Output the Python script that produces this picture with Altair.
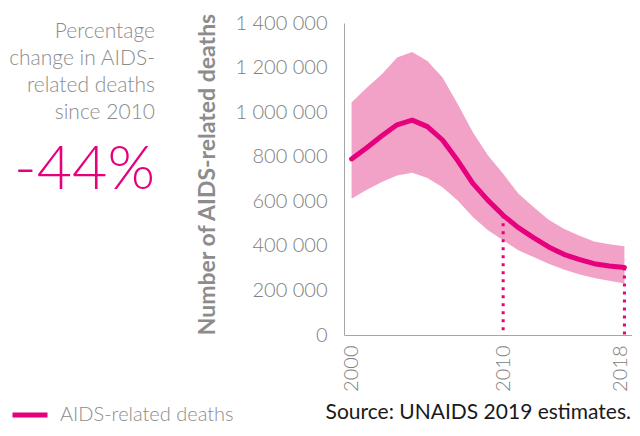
import altair as alt
import pandas as pd

years = list(range(2000, 2019))
deaths = [790000, 840000, 894000, 943000, 964000, 935000, 875000, 783000, 680000,
          604000, 537000, 482000, 437000, 395000, 362000, 339000, 320000, 310000, 303000]
upper = [1043000, 1110000, 1170000, 1245000, 1270000, 1230000, 1155000, 1037000, 910000,
         805000, 723000, 635000, 574000, 517000, 477000, 447000, 420000, 407000, 398000]
lower = [611000, 652000, 686000, 716000, 728000, 705000, 663000, 604000, 529000,
         470000, 425000, 380000, 350000, 320000, 294000, 273000, 256000, 243000, 231000]
marked_years = [2010, 2018]
x_ticks = [2000, 2010, 2018]
y_ticks = [0, 200000, 400000, 600000, 800000, 1000000, 1200000, 1400000]

MAGENTA = "#e6007e"
BAND = "#f2a2c6"
GRAY = "#8c8c8c"
FONT = "Lato"

df = pd.DataFrame({"year": years, "deaths": deaths, "upper": upper, "lower": lower,
                   "series": "AIDS-related deaths"})
df["zero"] = 0
marks_df = df[df["year"].isin(marked_years)]

xscale = alt.Scale(domain=[1999.5, 2018.5], nice=False, zero=False)
yscale = alt.Scale(domain=[0, 1400000], nice=False)

xaxis = alt.Axis(values=x_ticks, format="d", labelAngle=270, labelFontSize=20,
                 labelFont=FONT, labelFontWeight=300, labelColor="#808080",
                 labelPadding=10, ticks=False, grid=False, domainColor="#a6a6a6",
                 title=None, labelFlush=False,
                 labelOffset={"condition": {"test": "datum.value == 2018", "value": -4},
                              "value": 0})
yaxis = alt.Axis(values=y_ticks, labelFontSize=20, labelFont=FONT, labelFontWeight=300,
                 labelColor="#808080", labelPadding=17, ticks=False, grid=False,
                 domainColor="#a6a6a6",
                 labelExpr="replace(replace(format(datum.value, ','), ',', ' '), ',', ' ')",
                 title="Number of AIDS-related deaths", titleFont=FONT, titleFontSize=23,
                 titleFontWeight="bold", titleColor=GRAY, titleAngle=270,
                 titleX=-137, titleY=151, titleAlign="center", titleBaseline="middle")

x = alt.X("year:Q", scale=xscale, axis=xaxis)

band = alt.Chart(df).mark_area(color=BAND, opacity=1).encode(
    x=x,
    y=alt.Y("upper:Q", scale=yscale, axis=yaxis),
    y2="lower:Q",
)

rules = alt.Chart(marks_df).mark_rule(color=MAGENTA, strokeWidth=3, strokeDash=[3, 5]).encode(
    x=x,
    y=alt.Y("deaths:Q", scale=yscale),
    y2="zero:Q",
)

line = alt.Chart(df).mark_line(strokeWidth=5, strokeCap="round", strokeJoin="round").encode(
    x=x,
    y=alt.Y("deaths:Q", scale=yscale),
    color=alt.Color("series:N",
                    scale=alt.Scale(domain=["AIDS-related deaths"], range=[MAGENTA]),
                    legend=alt.Legend(title=None, orient="none", legendX=-334, legendY=372,
                                      padding=0, offset=0, labelLimit=400,
                                      symbolType="stroke", symbolStrokeWidth=5,
                                      symbolSize=1225, labelFontSize=20, labelFont=FONT,
                                      labelFontWeight=300, labelColor=GRAY, labelOffset=10)),
)

one = alt.Data(values=[{}])
ann = alt.Chart(one).mark_text(
    text=["Percentage", "change in AIDS-", "related deaths", "since 2010"],
    align="right", baseline="middle", font=FONT, fontWeight=300, fontSize=21,
    lineHeight=27, color=GRAY,
).encode(x=alt.value(-189), y=alt.value(9))

pct = alt.Chart(one).mark_text(
    text="-44%", align="right", baseline="middle", font=FONT, fontWeight=300,
    fontSize=61, color=MAGENTA,
).encode(x=alt.value(-189), y=alt.value(148))

source = alt.Chart(one).mark_text(
    text="Source: UNAIDS 2019 estimates.", align="right", baseline="middle", font=FONT,
    fontSize=21, color="#1a1a1a",
).encode(x=alt.value(287), y=alt.value(390))

chart = alt.layer(band, rules, line, ann, pct, source).properties(
    width=288, height=312,
    autosize=alt.AutoSizeParams(type="none"),
    padding={"left": 336, "top": 15, "right": 0, "bottom": 89},
).configure_view(stroke=None)

chart.save("out.html", embed_options={"renderer": "svg", "actions": False})
